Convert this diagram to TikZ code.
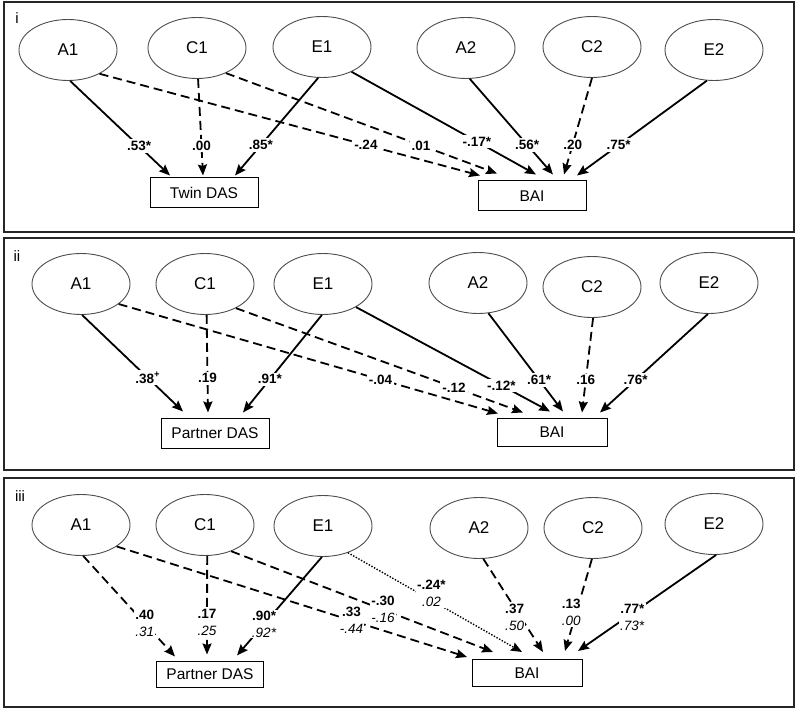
\documentclass[tikz,border=0pt]{standalone}
\usepackage{fontspec}
\setmainfont{Liberation Sans}
\usetikzlibrary{shapes.geometric, arrows.meta, calc}
\tikzstyle{latent} = [ellipse, draw=black!70, line width=0.9pt, inner sep=0pt, minimum width=98pt, minimum height=61pt, font=\fontsize{17}{19}\selectfont]
\tikzstyle{observed} = [rectangle, draw=black, line width=1pt, minimum width=108pt, minimum height=28pt, font=\fontsize{15.5}{17}\selectfont]
\tikzstyle{arrow} = [line width=1.8pt, -{Stealth[length=11pt, width=9pt, inset=1.5pt]}]
\tikzstyle{dasharrow} = [arrow, dash pattern=on 9pt off 5pt]
\tikzstyle{dotarrow} = [arrow, line width=1.4pt, dash pattern=on 1.4pt off 1.6pt]
\tikzstyle{coef} = [fill=white, inner sep=2pt, font=\bfseries\fontsize{13.5}{15}\selectfont]
\tikzstyle{coefs} = [fill=white, inner sep=1pt, align=center, font=\fontsize{13.5}{17}\selectfont]
\tikzstyle{panel} = [draw=black!85, line width=1.5pt]
\tikzstyle{tag} = [font=\fontsize{15}{17}\selectfont]

\begin{document}
\begin{tikzpicture}[x=1pt, y=-1pt]
\useasboundingbox (0,0) rectangle (800,708);

% panel i
\draw[panel] (4,2) rectangle (794,232);
\node (tagi) at (17,18) [tag] {i};
\node (a1i) at (68,50) [latent] {A1};
\node (c1i) at (197,48) [latent] {C1};
\node (e1i) at (322,47) [latent] {E1};
\node (a2i) at (466,48) [latent] {A2};
\node (c2i) at (592,47) [latent] {C2};
\node (e2i) at (714,50) [latent] {E2};
\node (tdas) at (204,193) [observed, minimum height=30pt] {Twin DAS};
\node (bai1) at (532,196) [observed, minimum height=30pt] {BAI};
\draw[arrow] (a1i.-86) -- ($(tdas.north)+(-34,-2)$) node[coef, pos=0.69] (ka1i) {.53*};
\draw[dasharrow] (c1i.-88) -- ($(tdas.north)+(-1,-2)$) node[coef, pos=0.69] (kc1i) {.00};
\draw[arrow] (e1i.-97) -- ($(tdas.north)+(31,-2)$) node[coef, pos=0.69] (ke1i) {.85*};
\draw[dasharrow] (a1i.-37) -- ($(bai1.north)+(-52,-5)$) node[coef, pos=0.70] (la1i) {-.24};
\draw[dasharrow] (c1i.-41) -- ($(bai1.north)+(-35,-7)$) node[coef, pos=0.72] (lc1i) {.01};
\draw[arrow] (e1i.-40) -- ($(bai1.north)+(4,-6)$) node[coef, pos=0.68] (le1i) {-.17*};
\draw[arrow] (a2i.-83) -- ($(bai1.north)+(21,-6)$) node[coef, pos=0.69] (la2i) {.56*};
\draw[dasharrow] (c2i.-90) -- ($(bai1.north)+(32,-6)$) node[coef, pos=0.69] (lc2i) {.20};
\draw[arrow] (e2i.-103) -- ($(bai1.north)+(45,-5)$) node[coef, pos=0.68] (le2i) {.75*};

% panel ii
\draw[panel] (4,238) rectangle (794,470);
\node (tagii) at (17,256) [tag] {ii};
\node (a1ii) at (81,284) [latent] {A1};
\node (c1ii) at (205,284) [latent] {C1};
\node (e1ii) at (323,284) [latent] {E1};
\node (a2ii) at (478,283) [latent] {A2};
\node (c2ii) at (592,287) [latent] {C2};
\node (e2ii) at (709,283) [latent] {E2};
\node (pdas2) at (215,433) [observed, minimum height=30pt] {Partner DAS};
\node (bai2) at (552,432) [observed, minimum width=110pt] {BAI};
\draw[arrow] (a1ii.-88) -- ($(pdas2.north)+(-32,-6)$) node[coef, pos=0.65] (ka1ii) {.38\textsuperscript{+}};
\draw[dasharrow] (c1ii.-87) -- ($(pdas2.north)+(-7,-5)$) node[coef, pos=0.65] (kc1ii) {.19};
\draw[arrow] (e1ii.-92) -- ($(pdas2.north)+(28,-5)$) node[coef, pos=0.66] (ke1ii) {.91*};
\draw[dasharrow] (a1ii.-28) -- ($(bai2.north)+(-54,-4)$) node[coef, pos=0.69] (la1ii) {-.04};
\draw[dasharrow] (c1ii.-38) -- ($(bai2.north)+(-29,-5)$) node[coef, pos=0.76] (lc1ii) {-.12};
\draw[arrow] (e1ii.-35) -- ($(bai2.north)+(-2,-6)$) node[coef, pos=0.75] (le1ii) {-.12*};
\draw[arrow] (a2ii.-71) -- ($(bai2.north)+(11,-6)$) node[coef, pos=0.68] (la2ii) {.61*};
\draw[dasharrow] (c2ii.-88) -- ($(bai2.north)+(30,-5)$) node[coef, pos=0.66] (lc2ii) {.16};
\draw[arrow] (e2ii.-92) -- ($(bai2.north)+(48,-5)$) node[coef, pos=0.67] (le2ii) {.76*};

% panel iii
\draw[panel] (4,478) rectangle (794,707);
\node (tagiii) at (20,496) [tag] {iii};
\node (a1iii) at (81,525) [latent] {A1};
\node (c1iii) at (205,525) [latent] {C1};
\node (e1iii) at (323,526) [latent] {E1};
\node (a2iii) at (479,528) [latent] {A2};
\node (c2iii) at (593,528) [latent] {C2};
\node (e2iii) at (714,524) [latent] {E2};
\node (pdas3) at (210,674) [observed, minimum width=107pt, minimum height=26pt] {Partner DAS};
\node (bai3) at (527,673) [observed, minimum width=110pt, minimum height=27pt] {BAI};
\draw[dasharrow] (a1iii.-86) -- ($(pdas3.north)+(-35,-4)$) node[coefs, pos=0.67] (ka1iii) {\textbf{.40}\\\textit{.31}};
\draw[dasharrow] (c1iii.-86) -- ($(pdas3.north)+(-3,-6)$) node[coefs, pos=0.67] (kc1iii) {\textbf{.17}\\\textit{.25}};
\draw[arrow] (e1iii.-92) -- ($(pdas3.north)+(27,-5)$) node[coefs, pos=0.68] (ke1iii) {\textbf{.90*}\\\textit{.92*}};
\draw[dasharrow] (a1iii.-31) -- ($(bai3.north)+(-60,-2)$) node[coefs, pos=0.67] (la1iii) {\textbf{.33}\\\textit{-.44}};
\draw[dasharrow] (c1iii.-45) -- ($(bai3.north)+(-34,-7)$) node[coefs, pos=0.58] (lc1iii) {\textbf{-.30}\\\textit{-.16}};
\draw[dotarrow] (e1iii.-47) -- ($(bai3.north)+(-5,-7)$) node[coefs, pos=0.48, yshift=7pt] (le1iii) {\textbf{-.24*}\\\textit{.02}};
\draw[dasharrow] (a2iii.-82) -- ($(bai3.north)+(16,-7)$) node[coefs, pos=0.625, xshift=-6pt] (la2iii) {\textbf{.37}\\\textit{.50}};
\draw[dasharrow] (c2iii.-92) -- ($(bai3.north)+(38,-8)$) node[coefs, pos=0.58, xshift=-5pt] (lc2iii) {\textbf{.13}\\\textit{.00}};
\draw[arrow] (e2iii.-86) -- ($(bai3.north)+(51,-8)$) node[coefs, pos=0.65, xshift=6pt] (le2iii) {\textbf{.77*}\\\textit{.73*}};
\end{tikzpicture}
\end{document}
